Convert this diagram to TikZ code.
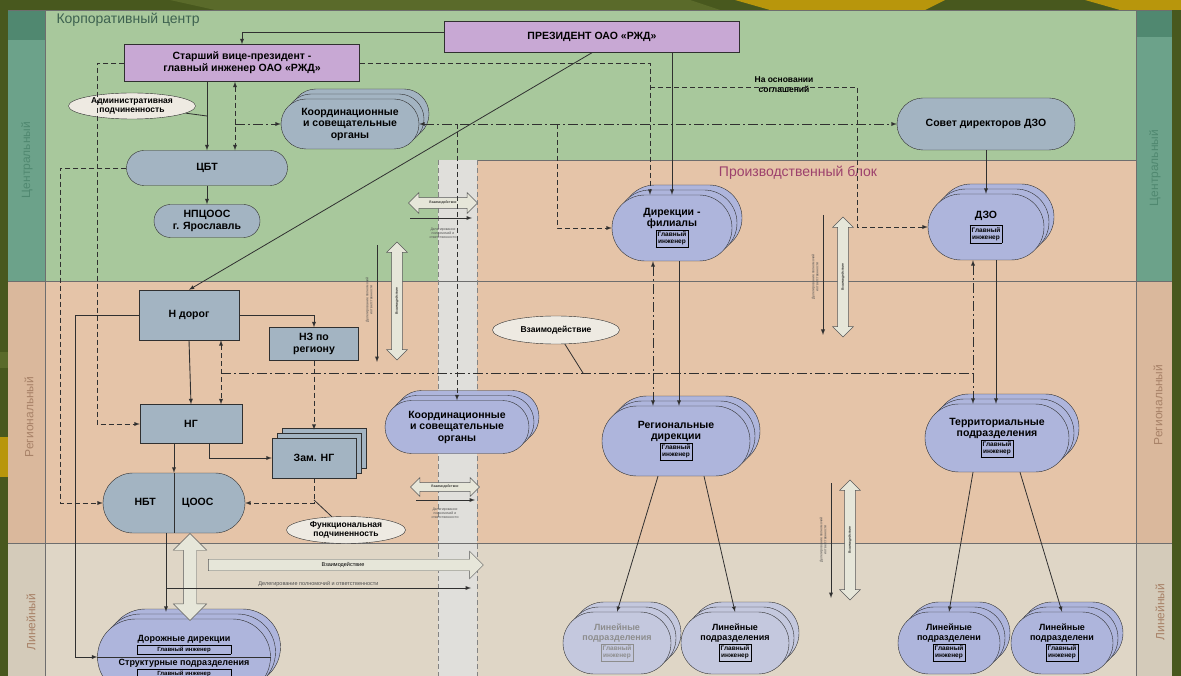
\documentclass[tikz,border=0pt]{standalone}
\usepackage{fontspec}
\setmainfont{Liberation Sans}
\usepackage{tikz}
\usetikzlibrary{shapes, arrows, positioning, shadows}

\definecolor{oliva}{RGB}{72,88,30}
\definecolor{olivasvet}{RGB}{90,106,42}
\definecolor{zoloto}{RGB}{184,150,12}
\definecolor{zelen}{RGB}{168,200,156}
\definecolor{biruza}{RGB}{108,162,138}
\definecolor{biruzatemn}{RGB}{80,136,112}
\definecolor{persik}{RGB}{229,196,168}
\definecolor{persiktemn}{RGB}{218,184,156}
\definecolor{bezh}{RGB}{223,214,198}
\definecolor{bezhtemn}{RGB}{212,203,186}
\definecolor{serpolosa}{RGB}{224,223,219}
\definecolor{fiolet}{RGB}{200,168,212}
\definecolor{sinij}{RGB}{163,180,194}
\definecolor{lavanda}{RGB}{174,181,220}
\definecolor{blednyj}{RGB}{196,200,222}
\definecolor{oblako}{RGB}{238,234,226}
\definecolor{liniya}{RGB}{48,48,48}
\definecolor{malina}{RGB}{156,64,108}
\definecolor{podpis}{RGB}{62,98,80}
\definecolor{podpisreg}{RGB}{168,130,104}
\definecolor{polyj}{RGB}{214,214,192}

\setlength{\fboxsep}{1.5pt}
\setlength{\fboxrule}{0.6pt}
\newcommand{\glinzh}{\fbox{\fontsize{6.5}{7}\selectfont\begin{tabular}{@{}c@{}}Главный\\инженер\end{tabular}}}
\newcommand{\glinzhdl}{\fbox{\makebox[90pt]{\fontsize{6}{6}\selectfont Главный инженер}}}

\tikzstyle{rukovod} = [draw=liniya, fill=fiolet, rectangle, inner sep=1pt, align=center, font=\bfseries\fontsize{10.5}{12}\selectfont]
\tikzstyle{upravl} = [draw=liniya, fill=sinij, rectangle, inner sep=1pt, align=center, font=\bfseries\fontsize{10.5}{12}\selectfont]
\tikzstyle{organ} = [draw=liniya, fill=sinij, rounded rectangle, inner sep=1pt, align=center, font=\bfseries\fontsize{10.5}{11.5}\selectfont]
\tikzstyle{primech} = [draw=liniya, fill=oblako, ellipse, inner sep=0pt, align=center, font=\bfseries\fontsize{8.5}{9.5}\selectfont]
\tikzstyle{strelka} = [draw=liniya, line width=0.9pt, -latex]
\tikzstyle{dvestrelki} = [draw=liniya, line width=0.9pt, latex-latex]
\tikzstyle{punktir} = [dash pattern=on 5pt off 3pt]
\tikzstyle{shtrpunkt} = [dash pattern=on 10pt off 3pt on 2pt off 3pt]
\tikzstyle{polaja} = [double arrow, draw=liniya!80, fill=polyj!60!white, double arrow head extend=5pt, inner xsep=2pt, inner ysep=3.5pt, font=\fontsize{3.5}{4}\selectfont]
\tikzstyle{polajaodna} = [single arrow, draw=liniya!80, fill=polyj!60!white, single arrow head extend=8pt, inner xsep=2pt, inner ysep=3pt, font=\fontsize{5.5}{6}\selectfont]
\tikzstyle{melkij} = [align=center, inner sep=0pt, text=liniya!85, font=\fontsize{3.5}{4}\selectfont]
\tikzstyle{polosa} = [rotate=90, inner sep=0pt, font=\fontsize{12}{12}\selectfont]
\tikzset{stopka/.style={double copy shadow={shadow xshift=5pt, shadow yshift=5pt, fill=#1, draw=liniya}}}

\begin{document}
\begin{tikzpicture}[x=1pt, y=-1pt]
\useasboundingbox (0,0) rectangle (1181,676);
\clip (0,0) rectangle (1181,676);

% фон слайда
\fill[oliva] (0,0) rectangle (1181,676);
\fill[olivasvet] (170,0) -- (690,0) -- (720,10) -- (215,10) -- cycle;
\fill[zoloto] (735,0) -- (945,0) -- (925,10) -- (770,10) -- cycle;
\fill[zoloto] (1085,0) -- (1181,0) -- (1181,10) -- (1120,10) -- cycle;
\fill[zoloto] (0,437) rectangle (8,477);
\fill[olivasvet] (0,352) rectangle (8,368);

% уровни
\fill[zelen] (45,10) rectangle (1136,281);
\fill[persik] (477,160) rectangle (1136,281);
\fill[persik] (45,281) rectangle (1136,543);
\fill[bezh] (45,543) rectangle (1136,676);
\fill[serpolosa] (438,160) rectangle (477,676);
\fill[biruza] (8,10) rectangle (45,281);
\fill[biruzatemn] (8,10) rectangle (45,40);
\fill[persiktemn] (8,281) rectangle (45,543);
\fill[bezhtemn] (8,543) rectangle (45,676);
\fill[biruza] (1136,10) rectangle (1172,281);
\fill[biruzatemn] (1136,10) rectangle (1172,37);
\fill[persiktemn] (1136,281) rectangle (1172,543);
\fill[bezhtemn] (1136,543) rectangle (1172,676);
\draw[liniya!70, line width=0.8pt] (8,10) -- (1172,10) (8,281) -- (1172,281) (8,543) -- (1172,543)
  (45,10) -- (45,676) (1136,10) -- (1136,676) (477,160) -- (1136,160);
\draw[liniya!60, punktir] (438,160) -- (438,676) (477,160) -- (477,676);

\node[anchor=west, text=podpis, font=\fontsize{14}{14}\selectfont] (korp) at (53,20) {Корпоративный центр};
\node[text=malina, font=\fontsize{14}{14}\selectfont] (proizv) at (798,173) {Производственный блок};
\node[polosa, text=biruzatemn] (lcentr) at (27,160) {Центральный};
\node[polosa, text=podpisreg] (lreg) at (29,417) {Региональный};
\node[polosa, text=podpisreg] (llin) at (31,622) {Линейный};
\node[polosa, text=biruzatemn] (pcentr) at (1155,168) {Центральный};
\node[polosa, text=podpisreg] (preg) at (1158,405) {Региональный};
\node[polosa, text=podpisreg] (plin) at (1160,612) {Линейный};

% корпоративный центр
\node[rukovod, minimum width=295pt, minimum height=31pt] (pres) at (592,37) {ПРЕЗИДЕНТ ОАО «РЖД»};
\node[rukovod, minimum width=235pt, minimum height=37pt] (svp) at (242,63) {Старший вице-президент -\\главный инженер ОАО «РЖД»};
\node[primech, minimum width=127pt, minimum height=26pt] (adm) at (132,106) {Административная\\подчиненность};
\node[organ, stopka=sinij, minimum width=140pt, minimum height=50pt] (kso1) at (350,124) {Координационные\\и совещательные\\органы};
\node[organ, minimum width=163pt, minimum height=35pt] (cbt) at (207,168) {ЦБТ};
\node[organ, minimum width=108pt, minimum height=33pt] (npc) at (207,221) {НПЦООС\\г. Ярославль};
\node[organ, minimum width=180pt, minimum height=52pt] (sovet) at (986,124) {Совет директоров ДЗО};
\node[align=center, font=\bfseries\fontsize{8.5}{10}\selectfont] (osnov) at (784,85) {На основании\\соглашений};
\node[organ, fill=lavanda, stopka=lavanda, minimum width=122pt, minimum height=66pt] (dirf) at (672,228) {Дирекции -\\филиалы\\\glinzh};
\node[organ, fill=lavanda, stopka=lavanda, minimum width=118pt, minimum height=66pt] (dzo) at (986,227) {ДЗО\\[4pt]\glinzh};

% региональный уровень
\node[upravl, minimum width=100pt, minimum height=50pt] (ndor) at (189,315) {Н дорог};
\node[upravl, minimum width=89pt, minimum height=33pt] (nz) at (314,344) {НЗ по\\региону};
\node[primech, minimum width=127pt, minimum height=28pt] (vzaim) at (556,330) {Взаимодействие};
\node[organ, fill=lavanda, stopka=lavanda, minimum width=146pt, minimum height=53pt] (kso2) at (457,427) {Координационные\\и совещательные\\органы};
\node[upravl, minimum width=102pt, minimum height=39pt] (ng) at (191,424) {НГ};
\node[upravl, stopka=sinij, minimum width=84pt, minimum height=40pt] (zam) at (314,458) {Зам. НГ};
\node[organ, fill=lavanda, stopka=lavanda, minimum width=150pt, minimum height=70pt] (regd) at (676,441) {Региональные\\дирекции\\\glinzh};
\node[organ, fill=lavanda, stopka=lavanda, minimum width=146pt, minimum height=68pt] (terr) at (997,438) {Территориальные\\подразделения\\\glinzh};
\node[organ, minimum width=144pt, minimum height=60pt] (nbt) at (174,503) {НБТ\hspace{26pt}ЦООС};
\node[primech, minimum width=119pt, minimum height=27pt] (func) at (346,530) {Функциональная\\подчиненность};

% линейный уровень
\node[organ, fill=lavanda, stopka=lavanda, minimum width=175pt, minimum height=76pt, font=\bfseries\fontsize{9}{10}\selectfont] (dordir) at (184,657) {Дорожные дирекции\\\glinzhdl\\[4pt]Структурные подразделения\\\glinzhdl};
\node[organ, fill=blednyj, stopka=blednyj, text=liniya!55, minimum width=110pt, minimum height=62pt, font=\bfseries\fontsize{9}{10}\selectfont] (lp1) at (617,643) {Линейные\\подразделения\\\glinzh};
\node[organ, fill=blednyj, stopka=blednyj, minimum width=110pt, minimum height=62pt, font=\bfseries\fontsize{9}{10}\selectfont] (lp2) at (735,643) {Линейные\\подразделения\\\glinzh};
\node[organ, fill=lavanda, stopka=lavanda, minimum width=104pt, minimum height=62pt, font=\bfseries\fontsize{9}{10}\selectfont] (lp3) at (949,643) {Линейные\\подразделени\\\glinzh};
\node[organ, fill=lavanda, stopka=lavanda, minimum width=104pt, minimum height=62pt, font=\bfseries\fontsize{9}{10}\selectfont] (lp4) at (1062,643) {Линейные\\подразделени\\\glinzh};

% полые стрелки взаимодействия
\node[polaja, rotate=90, minimum height=118pt] (vzv1) at (397,301) {Взаимодействие};
\node[polaja, rotate=90, minimum height=120pt] (vzv2) at (843,277) {Взаимодействие};
\node[polaja, rotate=90, minimum height=120pt] (vzv3) at (850,540) {Взаимодействие};
\node[polaja, minimum height=69pt] (vzg1) at (443,203) {Взаимодействие};
\node[polaja, inner ysep=2.5pt, minimum height=69pt] (vzg2) at (445,487) {Взаимодействие};
\node[polaja, rotate=90, double arrow head extend=10pt, inner ysep=6.5pt, minimum height=87pt] (vzbol) at (190,577) {};
\node[polajaodna, minimum height=275pt] (vzbolg) at (343,565) {Взаимодействие};

% опорные точки
\coordinate (razv) at (235,124);
\coordinate (adm1) at (207,116);
\coordinate (lev1) at (97,0);
\coordinate (lev2) at (60,0);
\coordinate (lev3) at (75,0);
\coordinate (vetv1) at (557,124);
\coordinate (osn1) at (650,87);
\coordinate (osn2) at (857,87);
\coordinate (dfdash) at (653,0);
\coordinate (dfsol) at (679,0);
\coordinate (dzdash) at (973,0);
\coordinate (dzsol) at (996,0);
\coordinate (reg1) at (221,373);
\coordinate (reg2) at (973,373);
\coordinate (vz1) at (583,373);
\coordinate (fun1) at (314,500);
\coordinate (ngzam) at (209,0);
\coordinate (dorl) at (166,0);
\coordinate (rd1) at (658,0);
\coordinate (rd2) at (704,0);
\coordinate (tp1) at (973,0);
\coordinate (tp2) at (1020,0);
\coordinate (del1a) at (377,245);
\coordinate (del1b) at (377,362);
\coordinate (del2a) at (410,218);
\coordinate (del2b) at (472,218);
\coordinate (del3a) at (823,215);
\coordinate (del3b) at (823,335);
\coordinate (del4a) at (831,483);
\coordinate (del4b) at (831,598);
\coordinate (del5a) at (416,500);
\coordinate (del5b) at (475,500);
\coordinate (del6a) at (166,588);
\coordinate (del6b) at (471,588);

% связи корпоративного центра
\draw[strelka] ([yshift=5pt]pres.west) -| (svp.north);
\draw[strelka] (cbt.north |- svp.south) -- (cbt.north);
\draw[punktir, dvestrelki] (razv |- svp.south) -- (razv |- cbt.north);
\draw[shtrpunkt, strelka] (razv) -- (kso1.west);
\draw[liniya, line width=0.8pt] (adm) -- (adm1);
\draw[strelka] (cbt.south) -- (npc.north);
\draw[punktir, strelka] (svp.west) -| (lev1 |- ng.west) -- (ng.west);
\draw[punktir, strelka] (cbt.west) -| (lev2 |- nbt.west) -- (nbt.west);
\draw[punktir, strelka] (svp.east) -| (osn1 |- dirf.north);
\draw[strelka] (pres.south -| dirf.north) -- (dirf.north);
\draw[liniya, line width=0.8pt, -latex] (pres.south) -- (ndor.north);
\draw[shtrpunkt, dvestrelki] (kso1.east) -- (sovet.west);
\draw[punktir, strelka] (kso2.north |- razv) -- (kso2.north);
\draw[punktir, strelka] (vetv1) |- (dirf.west);
\draw[punktir, strelka] (osn1) -- (osn2) |- (dzo.west);
\draw[strelka] (sovet.south) -- (dzo.north);

% производственный блок
\draw[shtrpunkt, dvestrelki] (dfdash |- dirf.south) -- (dfdash |- regd.north);
\draw[strelka] (dfsol |- dirf.south) -- (dfsol |- regd.north);
\draw[shtrpunkt, dvestrelki] (dzdash |- dzo.south) -- (dzdash |- terr.north);
\draw[strelka] (dzsol |- dzo.south) -- (dzsol |- terr.north);
\draw[shtrpunkt, draw=liniya, line width=0.9pt] (reg1) -- (reg2);
\draw[liniya, line width=0.8pt] (vzaim) -- (vz1);

% региональный уровень
\draw[strelka] (ndor.east) -| (nz.north);
\draw[strelka] (ndor.south) -- (ng.north);
\draw[punktir, dvestrelki] (reg1 |- ndor.south) -- (reg1 |- ng.north);
\draw[punktir, strelka] (nz.south) -- ([yshift=8pt]zam.north);
\draw[strelka] (ngzam |- ng.south) |- (zam.west);
\draw[strelka] (nbt.north |- ng.south) -- (nbt.north);
\draw[liniya, line width=0.8pt] (nbt.north) -- (nbt.south);
\draw[punktir, strelka] (zam.south) |- (nbt.east);
\draw[liniya, line width=0.8pt] (func) -- (fun1);

% линейный уровень
\draw[strelka] (dorl |- nbt.south) -- ([yshift=7pt]dorl |- dordir.north);
\draw[strelka] (ndor.west) -| (lev3 |- dordir.west) -- (dordir.west);
\draw[liniya, line width=0.8pt] (dordir.west) -- (dordir.east);
\draw[liniya, line width=0.8pt, -latex] (rd1 |- regd.south) -- (lp1.north);
\draw[liniya, line width=0.8pt, -latex] (rd2 |- regd.south) -- (lp2.north);
\draw[liniya, line width=0.8pt, -latex] (tp1 |- terr.south) -- (lp3.north);
\draw[liniya, line width=0.8pt, -latex] (tp2 |- terr.south) -- (lp4.north);

% делегирование полномочий
\draw[strelka] (del1a) -- (del1b);
\node[melkij, rotate=90] (dt1) at (369,300) {Делегирование полномочий\\и ответственности};
\draw[strelka] (del2a) -- (del2b);
\node[melkij] (dt2) at (443,233) {Делегирование\\полномочий и\\ответственности};
\draw[strelka] (del3a) -- (del3b);
\node[melkij, rotate=90] (dt3) at (815,277) {Делегирование полномочий\\и ответственности};
\draw[strelka] (del4a) -- (del4b);
\node[melkij, rotate=90] (dt4) at (823,540) {Делегирование полномочий\\и ответственности};
\draw[strelka] (del5a) -- (del5b);
\node[melkij] (dt5) at (445,513) {Делегирование\\полномочий и\\ответственности};
\draw[strelka] (del6a) -- (del6b) node[midway, above=1pt, melkij, font=\fontsize{5.5}{6}\selectfont] {Делегирование полномочий и ответственности};
\end{tikzpicture}
\end{document}
